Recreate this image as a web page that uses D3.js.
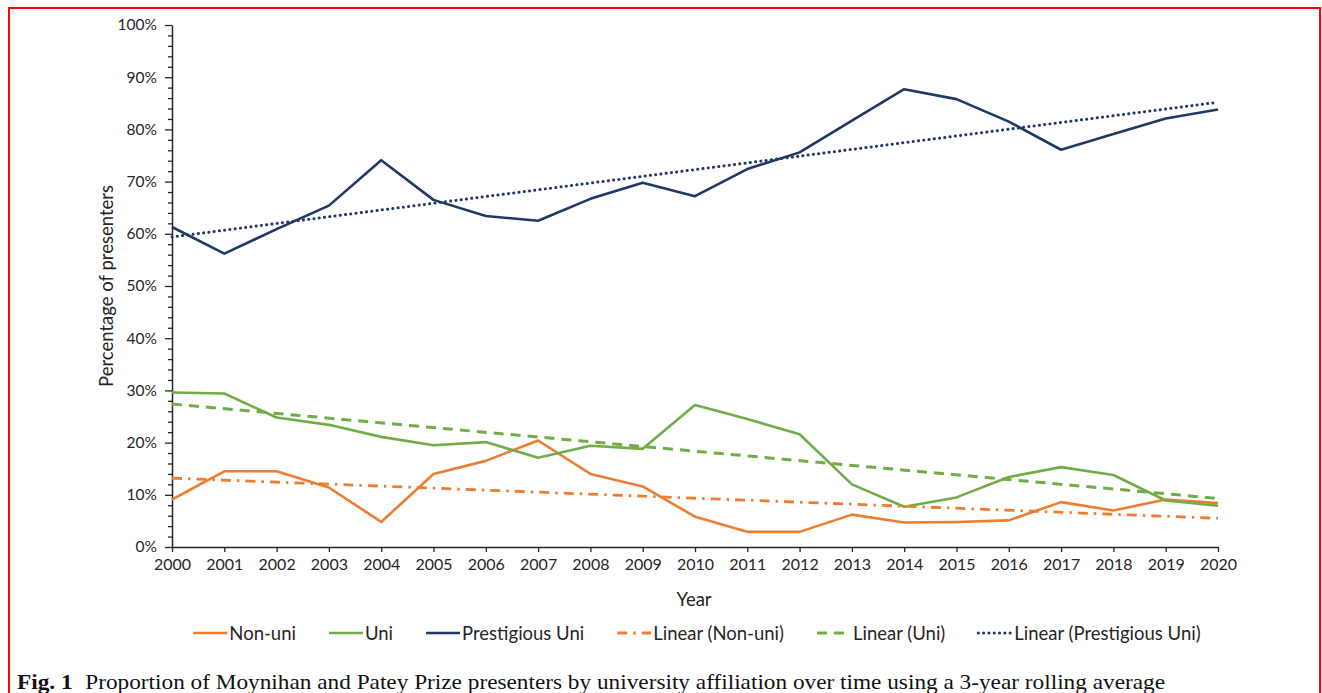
<!DOCTYPE html>
<html>
<head>
<meta charset="utf-8">
<script src="https://cdn.jsdelivr.net/npm/d3@7"></script>
<style>
  body { margin: 0; background: #fff; }
  svg { display: block; }
</style>
</head>
<body>
<svg id="chart"></svg>
<script>
// 3-year rolling averages, percent of presenters
var years = [2000, 2001, 2002, 2003, 2004, 2005, 2006, 2007, 2008, 2009, 2010,
             2011, 2012, 2013, 2014, 2015, 2016, 2017, 2018, 2019, 2020];
var nonUni = [9.1, 14.5, 14.5, 11.4, 4.8, 14.0, 16.5, 20.4, 14.0, 11.6, 5.8,
              2.9, 2.9, 6.2, 4.7, 4.8, 5.1, 8.6, 7.0, 9.1, 8.4];
var uni = [29.6, 29.4, 24.8, 23.4, 21.1, 19.5, 20.1, 17.1, 19.4, 18.8, 27.2,
           24.5, 21.6, 12.0, 7.7, 9.5, 13.4, 15.3, 13.8, 8.9, 7.9];
var prestigious = [61.3, 56.2, 60.9, 65.4, 74.1, 66.5, 63.4, 62.5, 66.7, 69.8, 67.2,
                   72.4, 75.6, 81.7, 87.7, 85.8, 81.5, 76.1, 79.1, 82.1, 83.8];

// linear trend lines, value at first and last year
var trendYears = [2000, 2020];
var trendNonUni = [13.2, 5.5];
var trendUni = [27.4, 9.3];
var trendPrestigious = [59.4, 85.2];

var yTicks = [0, 10, 20, 30, 40, 50, 60, 70, 80, 90, 100];
var yMinorTicks = [2, 4, 6, 8, 12, 14, 16, 18, 22, 24, 26, 28, 32, 34, 36, 38, 42, 44, 46, 48,
                   52, 54, 56, 58, 62, 64, 66, 68, 72, 74, 76, 78, 82, 84, 86, 88, 92, 94, 96, 98];

var legendNames = ["Non-uni", "Uni", "Prestigious Uni", "Linear (Non-uni)", "Linear (Uni)", "Linear (Prestigious Uni)"];

var orange = "#ED7D31", green = "#70AD47", navy = "#1F3864";
var font = "Lato, 'Open Sans', sans-serif";

var series = [
  { name: legendNames[0], x: years, v: nonUni, color: orange, dash: null },
  { name: legendNames[1], x: years, v: uni, color: green, dash: null },
  { name: legendNames[2], x: years, v: prestigious, color: navy, dash: null },
  { name: legendNames[3], x: trendYears, v: trendNonUni, color: orange, dash: "10,6,2.5,6", width: 2.8 },
  { name: legendNames[4], x: trendYears, v: trendUni, color: green, dash: "10,7", width: 3 },
  { name: legendNames[5], x: trendYears, v: trendPrestigious, color: navy, dash: "0.1,5.2", width: 3, cap: "round" }
];

var svgWidth = 1322, svgHeight = 693;
var svg = d3.select("#chart").attr("width", svgWidth).attr("height", svgHeight);

// red frame
svg.append("rect")
  .attr("x", 9).attr("y", 8)
  .attr("width", 1311).attr("height", 700)
  .attr("fill", "none")
  .attr("stroke", "#FF0000")
  .attr("stroke-width", 2);

var x = d3.scaleLinear().domain([2000, 2020]).range([172, 1218]);
var y = d3.scaleLinear().domain([0, 100]).range([547, 25]);

var axisColor = "#262626";

// minor y ticks
svg.append("g")
  .attr("transform", "translate(172,0)")
  .call(d3.axisLeft(y).tickValues(yMinorTicks).tickSize(4).tickFormat(""))
  .call(function(g) { g.select(".domain").remove(); })
  .selectAll("line").attr("stroke", axisColor).attr("stroke-width", 1.3);

var yAxis = svg.append("g")
  .attr("transform", "translate(172,0)")
  .call(d3.axisLeft(y).tickValues(yTicks).tickSize(7).tickSizeOuter(0).tickPadding(8)
        .tickFormat(function(d) { return d + "%"; }));
yAxis.select(".domain").attr("stroke", axisColor).attr("stroke-width", 1.5);
yAxis.selectAll("line").attr("stroke", axisColor).attr("stroke-width", 1.3);
yAxis.selectAll("text")
  .attr("font-family", font).attr("font-size", 15.5).attr("fill", axisColor);

var xAxis = svg.append("g")
  .attr("transform", "translate(0,547)")
  .call(d3.axisBottom(x).tickValues(years).tickSize(5).tickSizeOuter(0).tickPadding(7)
        .tickFormat(d3.format("d")));
xAxis.select(".domain").attr("stroke", axisColor).attr("stroke-width", 1.5);
xAxis.selectAll("line").attr("stroke", axisColor).attr("stroke-width", 1.3);
xAxis.selectAll("text")
  .attr("font-family", font).attr("font-size", 16).attr("fill", axisColor);

// axis titles
svg.append("text")
  .attr("x", 694).attr("y", 606)
  .attr("text-anchor", "middle")
  .attr("font-family", font).attr("font-size", 18.5).attr("fill", axisColor)
  .text("Year");

svg.append("text")
  .attr("transform", "translate(113,286)rotate(-90)")
  .attr("text-anchor", "middle")
  .attr("font-family", font).attr("font-size", 18.5).attr("fill", axisColor)
  .text("Percentage of presenters");

// lines
var line = d3.line()
  .x(function(d) { return x(d[0]); })
  .y(function(d) { return y(d[1]); });

series.forEach(function(s) {
  svg.append("path")
    .datum(d3.zip(s.x, s.v))
    .attr("fill", "none")
    .attr("stroke", s.color)
    .attr("stroke-width", s.width || 2.6)
    .attr("stroke-linejoin", "round")
    .attr("stroke-linecap", s.cap || "butt")
    .attr("stroke-dasharray", s.dash)
    .attr("d", line);
});

// legend
var legend = svg.append("g");
var lx = 0, sample = 34, gap = 33;
series.forEach(function(s) {
  var item = legend.append("g").attr("transform", "translate(" + lx + ",0)");
  item.append("line")
    .attr("x1", 0).attr("x2", sample)
    .attr("y1", 633).attr("y2", 633)
    .attr("stroke", s.color)
    .attr("stroke-width", s.width || 2.6)
    .attr("stroke-linecap", s.cap || "butt")
    .attr("stroke-dasharray", s.dash);
  var t = item.append("text")
    .attr("x", sample + 2).attr("y", 640)
    .attr("font-family", font).attr("font-size", 18.5).attr("fill", axisColor)
    .text(s.name);
  lx += sample + 2 + t.node().getComputedTextLength() + gap;
});
var legendWidth = lx - gap;
legend.attr("transform", "translate(" + (697 - legendWidth / 2) + ",0)");

// caption
var caption = svg.append("text")
  .attr("x", 17).attr("y", 689)
  .attr("font-family", "'Liberation Serif', 'Times New Roman', serif")
  .attr("font-size", 22).attr("fill", "#111")
  .attr("textLength", 1148)
  .attr("lengthAdjust", "spacingAndGlyphs");
caption.append("tspan").attr("font-weight", "bold").text("Fig. 1");
caption.append("tspan").attr("dx", 12)
  .text("Proportion of Moynihan and Patey Prize presenters by university affiliation over time using a 3-year rolling average");
</script>
</body>
</html>
